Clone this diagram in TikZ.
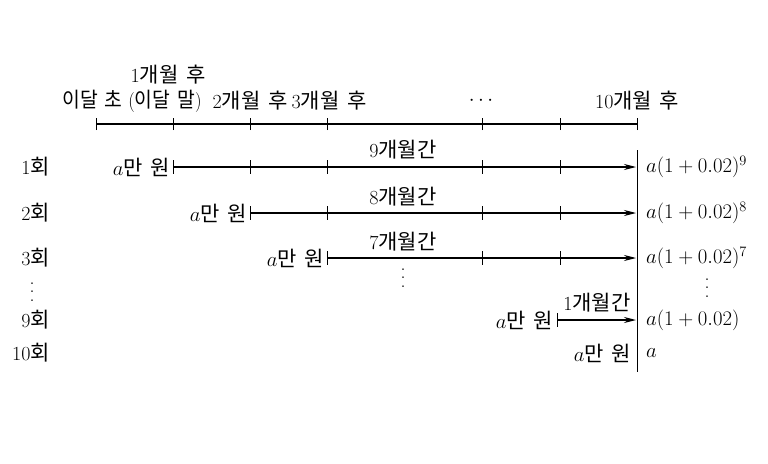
\documentclass[tikz,border=0pt]{standalone}
\usepackage{fontspec}
\usepackage{graphicx}
\newfontfamily\kr{Noto Sans CJK KR}[Scale=1.05,WordSpace=1.6]
\usetikzlibrary{arrows.meta}
\newcommand{\myvdots}{\vbox{\baselineskip=8.5pt\lineskiplimit=0pt\hbox{.}\hbox{.}\hbox{.}}}
\begin{document}
\begin{tikzpicture}[x=1pt,y=-1pt,
  lbl/.style={inner sep=0pt,font=\fontsize{20}{22}\selectfont},
  dts/.style={inner sep=0pt,font=\fontsize{20}{22}\selectfont},
  mth/.style={inner sep=0pt,font=\fontsize{20}{22}\selectfont,anchor=west},
  tl/.style={line width=1.1pt},
  arr/.style={line width=1.1pt,-{Stealth[length=12pt,width=6pt]}},
  tk/.style={line width=0.7pt}]
\useasboundingbox (0,0) rectangle (768,463);
% top timeline
\coordinate (t0) at (96,124);
\coordinate (t1) at (173,124);
\coordinate (t2) at (250,124);
\coordinate (t3) at (327,124);
\coordinate (t8) at (482,124);
\coordinate (t9) at (560,124);
\coordinate (t10) at (637,124);
\draw[tl] (t0) -- (t10);
\foreach \p in {t0,t1,t2,t3,t8,t9,t10} \draw[tk] ([yshift=-6]\p) -- ([yshift=6]\p);
\node[lbl] (l0) at (132,101) {\scalebox{0.92}[1]{{\kr 이달 초} ({\kr 이달 말})}};
\node[lbl] (l1) at (168,75) {1{\kr 개월 후}};
\node[lbl] (l2) at (250,101) {2{\kr 개월 후}};
\node[lbl] (l3) at (329,101) {3{\kr 개월 후}};
\node[lbl] (ld) at (481,101) {$\cdots$};
\node[lbl] (l10) at (637,101) {10{\kr 개월 후}};
% vertical line
\coordinate (va) at (637,150);
\coordinate (vb) at (637,372);
\draw[line width=0.7pt] (va) -- (vb);
% rows
\node[lbl,anchor=east] (r1) at (50,167) {1{\kr 회}};
\node[lbl,anchor=east] (r2) at (50,213) {2{\kr 회}};
\node[lbl,anchor=east] (r3) at (50,258) {3{\kr 회}};
\node[lbl,anchor=east] (r9) at (50,320) {9{\kr 회}};
\node[lbl,anchor=east] (r10) at (50,353) {10{\kr 회}};
\node[dts] (rd) at (32,292) {\myvdots};
% row 1
\coordinate (a1) at (173,167); \coordinate (b1) at (636,167);
\node[lbl,anchor=east] (m1) at (170,167) {$a${\kr 만 원}};
\draw[arr] (a1) -- (b1);
\foreach \x in {173,250,327,482,560} \draw[tk] (\x,160) -- (\x,174);
\node[lbl] (g1) at (403,150) {9{\kr 개월간}};
\node[mth] (e1) at (646,167) {$a(1+0.02)^9$};
% row 2
\coordinate (a2) at (250,213); \coordinate (b2) at (636,213);
\node[lbl,anchor=east] (m2) at (247,213) {$a${\kr 만 원}};
\draw[arr] (a2) -- (b2);
\foreach \x in {250,327,482,560} \draw[tk] (\x,206) -- (\x,220);
\node[lbl] (g2) at (403,197) {8{\kr 개월간}};
\node[mth] (e2) at (646,213) {$a(1+0.02)^8$};
% row 3
\coordinate (a3) at (327,258); \coordinate (b3) at (636,258);
\node[lbl,anchor=east] (m3) at (324,258) {$a${\kr 만 원}};
\draw[arr] (a3) -- (b3);
\foreach \x in {327,482,560} \draw[tk] (\x,251) -- (\x,265);
\node[lbl] (g3) at (403,242) {7{\kr 개월간}};
\node[mth] (e3) at (646,258) {$a(1+0.02)^7$};
\node[dts] (md) at (403,278) {\myvdots};
\node[dts] (ed) at (707,288) {\myvdots};
% row 9
\coordinate (a9) at (557,320); \coordinate (b9) at (636,320);
\node[lbl,anchor=east] (m9) at (553,320) {$a${\kr 만 원}};
\draw[arr] (a9) -- (b9);
\draw[tk] (557,313) -- (557,327);
\node[lbl] (g9) at (597,303) {1{\kr 개월간}};
\node[mth] (e9) at (646,320) {$a(1+0.02)$};
% row 10
\node[lbl,anchor=east] (m10) at (631,353) {$a${\kr 만 원}};
\node[mth] (e10) at (646,353) {$a$};
\end{tikzpicture}
\end{document}
